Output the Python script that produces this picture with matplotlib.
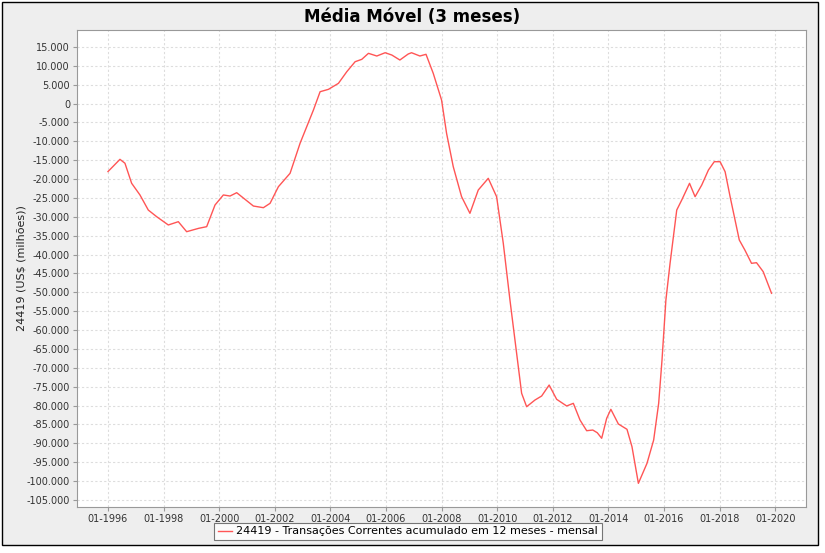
import matplotlib
matplotlib.use("Agg")
import matplotlib.pyplot as plt
from matplotlib.patches import Rectangle
from matplotlib.ticker import FuncFormatter, MultipleLocator

# ---- data (decimal year, US$ millions) ----
dates = [1996.00, 1996.20, 1996.43, 1996.61, 1996.85, 1997.15, 1997.45, 1997.75,
         1998.17, 1998.53, 1998.83, 1999.26, 1999.55, 1999.85, 2000.15, 2000.39,
         2000.63, 2000.93, 2001.23, 2001.59, 2001.83, 2002.13, 2002.55, 2002.91,
         2003.15, 2003.39, 2003.63, 2003.93, 2004.29, 2004.59, 2004.89, 2005.13,
         2005.37, 2005.67, 2005.97, 2006.21, 2006.50, 2006.80, 2006.92, 2007.22,
         2007.44, 2007.70, 2008.00, 2008.18, 2008.42, 2008.72, 2009.02, 2009.32,
         2009.68, 2009.98, 2010.22, 2010.46, 2010.70, 2010.88, 2011.06, 2011.36,
         2011.60, 2011.87, 2012.14, 2012.50, 2012.74, 2012.98, 2013.22, 2013.44,
         2013.60, 2013.76, 2013.94, 2014.09, 2014.36, 2014.67, 2014.85, 2015.08,
         2015.39, 2015.63, 2015.81, 2015.93, 2016.07, 2016.22, 2016.46, 2016.64,
         2016.92, 2017.12, 2017.36, 2017.60, 2017.81, 2018.02, 2018.20, 2018.38,
         2018.71, 2018.91, 2019.15, 2019.33, 2019.57, 2019.87]
values = [-18000, -16500, -14760, -15800, -21100, -24200, -28200, -29950,
          -32150, -31280, -33930, -33040, -32600, -26860, -24200, -24480,
          -23600, -25360, -27130, -27570, -26420, -22010, -18460, -10500,
          -6100, -1700, 3150, 3780, 5370, 8450, 11100, 11730,
          13320, 12610, 13480, 12870, 11550, 13140, 13480, 12610,
          13060, 8030, 950, -7870, -16700, -24660, -29060, -22890,
          -19790, -24660, -37000, -52030, -66150, -76740, -80290, -78520,
          -77460, -74550, -78330, -80100, -79400, -83820, -86650, -86470,
          -87180, -88660, -83360, -80980, -84870, -86280, -90890, -100590,
          -95290, -89110, -79390, -67920, -52030, -42300, -28190, -25540,
          -21120, -24660, -21560, -17590, -15390, -15390, -18040, -24660,
          -36130, -38780, -42310, -42140, -44520, -50250]

tick_years = [1996, 1998, 2000, 2002, 2004, 2006, 2008, 2010, 2012, 2014, 2016, 2018, 2020]
tick_labels = ["01-%d" % y for y in tick_years]

title = "Média Móvel (3 meses)"
ylabel = "24419 (US$ (milhões))"
series_name = "24419 - Transações Correntes acumulado em 12 meses - mensal"

plt.rcParams['font.family'] = ['DejaVu Sans']

W, H = 825, 553
fig = plt.figure(figsize=(W / 100, H / 100), dpi=100)
fig.patch.set_facecolor("white")

# outer panel
panel = Rectangle((2 / W, (H - 545) / H), 816 / W, 543 / H,
                  transform=fig.transFigure, facecolor="#EEEEEE",
                  edgecolor="black", linewidth=1.0, zorder=-10)
fig.add_artist(panel)

ax = fig.add_axes([77 / W, (H - 507) / H, (806 - 77) / W, (507 - 30) / H], zorder=1)
ax.set_facecolor("white")

line, = ax.plot(dates, values, color="#FF5555", linewidth=1.0, label=series_name)

ax.set_xlim(1994.885, 2021.11)
ax.set_ylim(-106860, 19500)
ax.yaxis.set_major_locator(MultipleLocator(5000))
ax.yaxis.set_major_formatter(FuncFormatter(lambda v, p: "{:,.0f}".format(v).replace(",", ".")))
ax.set_xticks(tick_years)
ax.set_xticklabels(tick_labels)

ax.grid(True, color="#DDDDDD", linestyle=(0, (2, 2)), linewidth=0.8)
ax.set_axisbelow(True)
for s in ax.spines.values():
    s.set_color("#999999")
    s.set_linewidth(0.8)
ax.tick_params(axis="both", labelsize=7, color="#999999", length=3, width=0.8,
               labelcolor="#333333", pad=2)

ax.set_ylabel(ylabel, fontsize=8, color="#222222")
ax.yaxis.set_label_coords((27 - 77) / (806 - 77), 0.5)

fig.text(0.5, (H - 17) / H, title, ha="center", va="center",
         fontsize=12, fontweight="bold", color="black")

leg = fig.legend(handles=[line], loc="center", bbox_to_anchor=(408 / W, (H - 531.5) / H),
                 fontsize=8, frameon=True, fancybox=False, handlelength=1.2,
                 handletextpad=0.4, borderpad=0.35, borderaxespad=0)
leg.get_frame().set_edgecolor("#555555")
leg.get_frame().set_facecolor("white")
leg.get_frame().set_linewidth(0.8)

fig.savefig("out.png", dpi=100)
